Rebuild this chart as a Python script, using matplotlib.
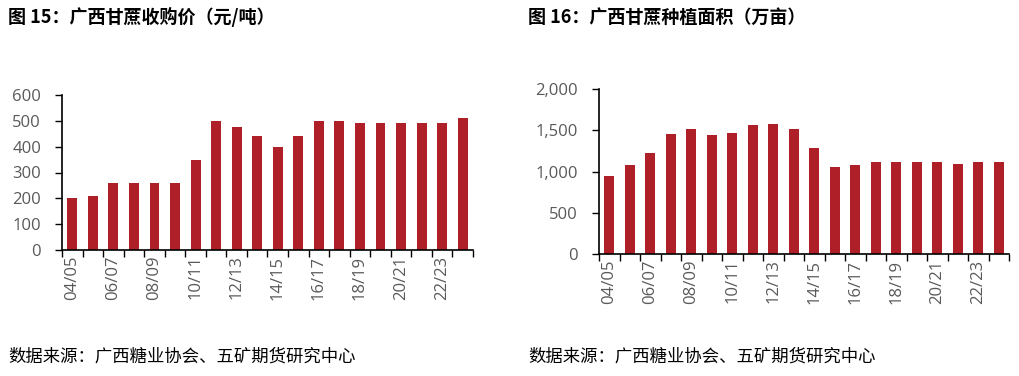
#!/usr/bin/env python3
"""Guangxi sugarcane purchase price and planted area, two bar panels."""

import matplotlib

matplotlib.use("Agg")
import matplotlib.pyplot as plt  # noqa: E402
from matplotlib.ticker import FuncFormatter, MultipleLocator  # noqa: E402

plt.rcParams["font.family"] = ["Noto Sans CJK SC", "DejaVu Sans"]

SEASONS = [
    "04/05", "05/06", "06/07", "07/08", "08/09", "09/10", "10/11", "11/12",
    "12/13", "13/14", "14/15", "15/16", "16/17", "17/18", "18/19", "19/20",
    "20/21", "21/22", "22/23", "23/24",
]
PRICE = [200, 210, 260, 260, 260, 260, 350, 500, 475, 440,
         400, 440, 500, 500, 490, 490, 490, 490, 490, 510]
AREA = [940, 1080, 1220, 1450, 1520, 1440, 1470, 1560, 1580, 1510,
        1290, 1060, 1080, 1120, 1110, 1120, 1110, 1090, 1110, 1110]

TITLE_LEFT = "图 15：广西甘蔗收购价（元/吨）"
TITLE_RIGHT = "图 16：广西甘蔗种植面积（万亩）"
SOURCE = "数据来源：广西糖业协会、五矿期货研究中心"

BAR_COLOR = "#AE1F28"
TICK_COLOR = "#595959"
NUM_FONT = ["Open Sans", "DejaVu Sans"]


def draw_panel(ax, values, ymax, step, fmt):
    positions = list(range(len(SEASONS)))
    ax.bar(positions, values, width=0.48, color=BAR_COLOR, zorder=2)
    ax.set_xlim(-0.5, len(SEASONS) - 0.5)
    ax.set_ylim(0, ymax)
    ax.yaxis.set_major_locator(MultipleLocator(step))
    ax.yaxis.set_major_formatter(FuncFormatter(fmt))

    ax.set_xticks(positions[::2])
    ax.set_xticklabels(SEASONS[::2], rotation=90, family=NUM_FONT,
                       fontsize=12, color=TICK_COLOR)
    ax.set_xticks([p - 0.5 for p in range(len(SEASONS) + 1)], minor=True)
    ax.tick_params(axis="x", which="major", length=0, pad=4)
    ax.tick_params(axis="x", which="minor", length=5, width=1, direction="out")
    ax.tick_params(axis="y", length=5, width=1, direction="out",
                   labelsize=12, labelcolor=TICK_COLOR, pad=10)
    for lbl in ax.get_yticklabels():
        lbl.set_family(NUM_FONT)

    for side in ("top", "right"):
        ax.spines[side].set_visible(False)
    for side in ("left", "bottom"):
        ax.spines[side].set_linewidth(1.2)
        ax.spines[side].set_color("black")


fig = plt.figure(figsize=(10.2, 3.76), dpi=100)

ax_l = fig.add_axes([62 / 1020, 1 - 250 / 376, (473 - 62) / 1020, (250 - 95) / 376])
draw_panel(ax_l, PRICE, 600, 100, lambda v, _: f"{int(v)}")

ax_r = fig.add_axes([599 / 1020, 1 - 254 / 376, (1009 - 599) / 1020, (254 - 89) / 376])
draw_panel(ax_r, AREA, 2000, 500, lambda v, _: f"{int(v):,}")

fig.text(8 / 1020, 1 - 17 / 376, TITLE_LEFT, fontsize=13, fontweight="bold",
         va="center", ha="left")
fig.text(528 / 1020, 1 - 17 / 376, TITLE_RIGHT, fontsize=13, fontweight="bold",
         va="center", ha="left")
fig.text(8 / 1020, 1 - 357 / 376, SOURCE, fontsize=12.5, va="center", ha="left")
fig.text(528 / 1020, 1 - 357 / 376, SOURCE, fontsize=12.5, va="center", ha="left")

fig.savefig("out.png", dpi=100)
plt.close(fig)
